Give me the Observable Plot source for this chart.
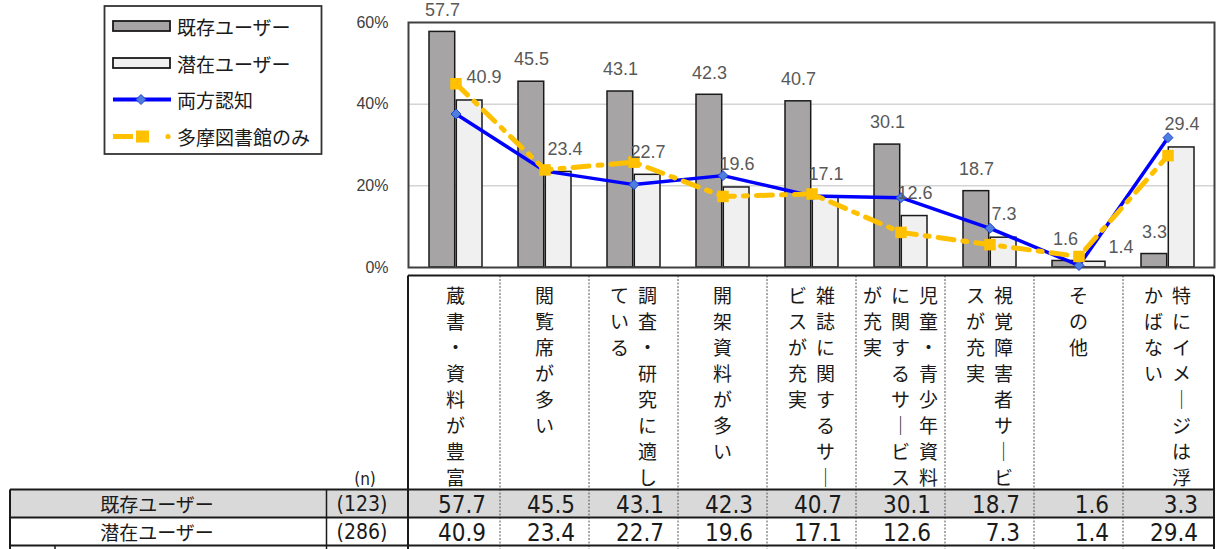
<!DOCTYPE html>
<html><head><meta charset="utf-8">
<script src="https://cdn.jsdelivr.net/npm/d3@7"></script>
<script src="https://cdn.jsdelivr.net/npm/@observablehq/plot@0.6"></script>
<style>
body{margin:0;background:#fff;}
#chart{width:1220px;height:549px;overflow:hidden;}
</style></head><body><div id="chart"></div>
<script>
// ---- data ----
const categories = ["蔵書・資料が豊富","閲覧席が多い","調査・研究に適している","開架資料が多い","雑誌に関するサービスが充実","児童・青少年資料に関するサービスが充実","視覚障害者サービスが充実","その他","特にイメージは浮かばない"];
const categoryColumns = [["蔵書・資料が豊富"],["閲覧席が多い"],["調査・研究に適し","ている"],["開架資料が多い"],["雑誌に関するサー","ビスが充実"],["児童・青少年資料","に関するサービス","が充実"],["視覚障害者サービ","スが充実"],["その他"],["特にイメージは浮","かばない"]];
const existingUsers = [57.7,45.5,43.1,42.3,40.7,30.1,18.7,1.6,3.3];
const potentialUsers = [40.9,23.4,22.7,19.6,17.1,12.6,7.3,1.4,29.4];
const bothAware = [37.6,23.6,20.3,22.5,17.5,17.1,9.6,0.5,31.8];
const tamaOnly = [45.0,23.9,25.8,17.4,18.0,8.6,5.6,2.7,27.4];
const seriesNames = ["既存ユーザー","潜在ユーザー","両方認知","多摩図書館のみ"];
const sampleSizes = ["(123)","(286)"];
const yTicks = [0,20,40,60];

const data = categories.map((c,i)=>({cat:c, existing:existingUsers[i], potential:potentialUsers[i], both:bothAware[i], tama:tamaOnly[i]}));

const JP = "'Noto Sans CJK JP','Noto Sans',sans-serif";
const NUM = "'Liberation Sans','Arial',sans-serif";
const NARROW = "'Liberation Sans Narrow','Arial Narrow','DejaVu Sans Condensed',sans-serif";

const shifted = new Set([potentialUsers[0], potentialUsers[1], potentialUsers[7]]);

const plot = Plot.plot({
  width: 1220, height: 549,
  marginLeft: 408, marginRight: 6, marginTop: 22, marginBottom: 282,
  style: {fontFamily: NUM, background: "#fff", overflow: "visible"},
  x: {domain: categories, padding: 0, axis: null},
  y: {domain: [0,60], axis: null},
  marks: [
    Plot.gridY([20,40], {stroke:"#d4d4d4", strokeOpacity:1, strokeWidth:1.5}),
    Plot.axisY({ticks:yTicks, tickFormat:d=>d+"%", tickSize:0, tickPadding:20, fontSize:16, fill:"#404040", label:null}),
    Plot.barY(data,{x:"cat", y:"existing", fill:"#a6a4a4", stroke:"#1a1a1a", strokeWidth:1.5, insetLeft:18, insetRight:45.3}),
    Plot.barY(data,{x:"cat", y:"potential", fill:"#f0f0f0", stroke:"#1a1a1a", strokeWidth:1.5, insetLeft:45.3, insetRight:18}),
    Plot.frame({stroke:"#404040", strokeWidth:2}),
    Plot.line(data,{x:"cat", y:"both", stroke:"#0000ff", strokeWidth:3.5}),
    Plot.dot(data,{x:"cat", y:"both", symbol:"diamond2", r:4.5, fill:"#4f7fdc", stroke:"#1f3fd8", strokeWidth:1}),
    Plot.line(data,{x:"cat", y:"tama", stroke:"#ffc000", strokeWidth:5, strokeDasharray:"16,9,4,9"}),
    Plot.dot(data,{x:"cat", y:"tama", symbol:"square", r:6.5, fill:"#ffc000"}),
    Plot.text(data,{x:"cat", y:"existing", text:d=>d.existing.toFixed(1), dx:-13.6, dy:-22, fill:"#595959", fontSize:18}),
    Plot.text(data,{filter:d=>!shifted.has(d.potential), x:"cat", y:"potential", text:d=>d.potential.toFixed(1), dx:14, dy:-23, fill:"#595959", fontSize:18}),
    Plot.text(data,{filter:d=>d.potential===potentialUsers[0], x:"cat", y:"potential", text:d=>d.potential.toFixed(1), dx:28, dy:-23, fill:"#595959", fontSize:18}),
    Plot.text(data,{filter:d=>d.potential===potentialUsers[1], x:"cat", y:"potential", text:d=>d.potential.toFixed(1), dx:20, dy:-23, fill:"#595959", fontSize:18}),
    Plot.text(data,{filter:d=>d.potential===potentialUsers[7], x:"cat", y:"potential", text:d=>d.potential.toFixed(1), dx:42, dy:-15, fill:"#595959", fontSize:18})
  ]
});
document.getElementById("chart").appendChild(plot);

// ---- legend, category labels and table (positioned with Plot's x scale) ----
const svg = d3.select(plot);
const xs = plot.scale("x");
const bw = xs.bandwidth;
const L = xs.range[0], R = xs.range[1];
const g = svg.append("g");

// legend
const lg = g.append("g");
lg.append("rect").attr("x",104.5).attr("y",6).attr("width",217).attr("height",148).attr("fill","#fff").attr("stroke","#333").attr("stroke-width",1.8);
const ly = [26, 63, 99.5, 136.5];
lg.append("rect").attr("x",113).attr("y",ly[0]-5).attr("width",57).attr("height",10).attr("fill","#a6a4a4").attr("stroke","#1a1a1a").attr("stroke-width",1.8);
lg.append("rect").attr("x",113).attr("y",ly[1]-5).attr("width",57).attr("height",10).attr("fill","#f0f0f0").attr("stroke","#1a1a1a").attr("stroke-width",1.8);
lg.append("line").attr("x1",113).attr("x2",171).attr("y1",ly[2]).attr("y2",ly[2]).attr("stroke","#0000ff").attr("stroke-width",4);
lg.append("path").attr("d",`M141,${ly[2]-5}L146,${ly[2]}L141,${ly[2]+5}L136,${ly[2]}Z`).attr("fill","#4f7fdc").attr("stroke","#1f3fd8");
lg.append("line").attr("x1",113).attr("x2",133).attr("y1",ly[3]).attr("y2",ly[3]).attr("stroke","#ffc000").attr("stroke-width",5);
lg.append("rect").attr("x",136).attr("y",ly[3]-6).attr("width",13).attr("height",12).attr("fill","#ffc000");
lg.append("circle").attr("cx",168).attr("cy",ly[3]).attr("r",2.6).attr("fill","#ffc000");
seriesNames.forEach((s,i)=>{
  lg.append("text").attr("x",177).attr("y",ly[i]).attr("text-anchor","start").attr("dominant-baseline","central")
    .attr("font-family",JP).attr("font-size",19).attr("fill","#1a1a1a").text(s);
});

// category label box
const boxTop = 275.5, boxBot = 489.5, r2 = 517.5, r3 = 545.5;
g.append("rect").attr("x",10).attr("y",boxBot).attr("width",R-10).attr("height",r2-boxBot).attr("fill","#d9d9d9");
categories.forEach((c,i)=>{
  if(i===0) return;
  const x = xs.apply(c);
  g.append("line").attr("x1",x).attr("x2",x).attr("y1",boxTop).attr("y2",549)
    .attr("stroke","#555").attr("stroke-width",1).attr("stroke-dasharray","2,1.5");
});
const solid = (x1,y1,x2,y2,w)=>g.append("line").attr("x1",x1).attr("y1",y1).attr("x2",x2).attr("y2",y2).attr("stroke","#1a1a1a").attr("stroke-width",w);
solid(L,boxTop,R,boxTop,2);
solid(L,boxTop,L,549,2);
solid(R,boxTop,R,549,2);
solid(10,boxBot,R,boxBot,2.2);
solid(10,r2,R,r2,2.2);
solid(10,r3,R,r3,2.2);
solid(10,boxBot,10,549,2);
solid(326.5,boxBot,326.5,549,1.5);
solid(55,r3,55,549,1.5);

// vertical category labels
categoryColumns.forEach((cols,i)=>{
  const cx = xs.apply(categories[i]) + bw/2;
  const n = cols.length;
  cols.forEach((col,j)=>{
    const x = cx + ((n-1)/2 - j)*28;
    Array.from(col).forEach((ch,k)=>{
      g.append("text").attr("x",x).attr("y",294 + k*26.1).attr("text-anchor","middle")
        .attr("dominant-baseline","central").attr("font-family",JP).attr("font-size",19)
        .attr("fill","#1a1a1a").text(ch === "ー" ? "｜" : ch);
    });
  });
});

// table
g.append("text").attr("x",365).attr("y",479).attr("text-anchor","middle").attr("dominant-baseline","central")
  .attr("font-family",NARROW).attr("font-size",17).attr("fill","#1a1a1a").text("(n)");
const rowsY = [(boxBot+r2)/2, (r2+r3)/2];
const rowValues = [existingUsers, potentialUsers];
seriesNames.slice(0,2).forEach((s,ri)=>{
  g.append("text").attr("x",157).attr("y",rowsY[ri]).attr("text-anchor","middle").attr("dominant-baseline","central")
    .attr("font-family",JP).attr("font-size",19).attr("fill","#1a1a1a").text(s);
  g.append("text").attr("x",362).attr("y",rowsY[ri]).attr("text-anchor","middle").attr("dominant-baseline","central")
    .attr("font-family",NARROW).attr("font-size",21).attr("fill","#1a1a1a").text(sampleSizes[ri]);
  rowValues[ri].forEach((v,ci)=>{
    g.append("text").attr("x",xs.apply(categories[ci]) + bw - 14).attr("y",rowsY[ri]+1).attr("text-anchor","end")
      .attr("dominant-baseline","central").attr("font-family",NARROW).attr("font-size",24)
      .attr("fill","#1a1a1a").text(v.toFixed(1));
  });
});
</script></body></html>
